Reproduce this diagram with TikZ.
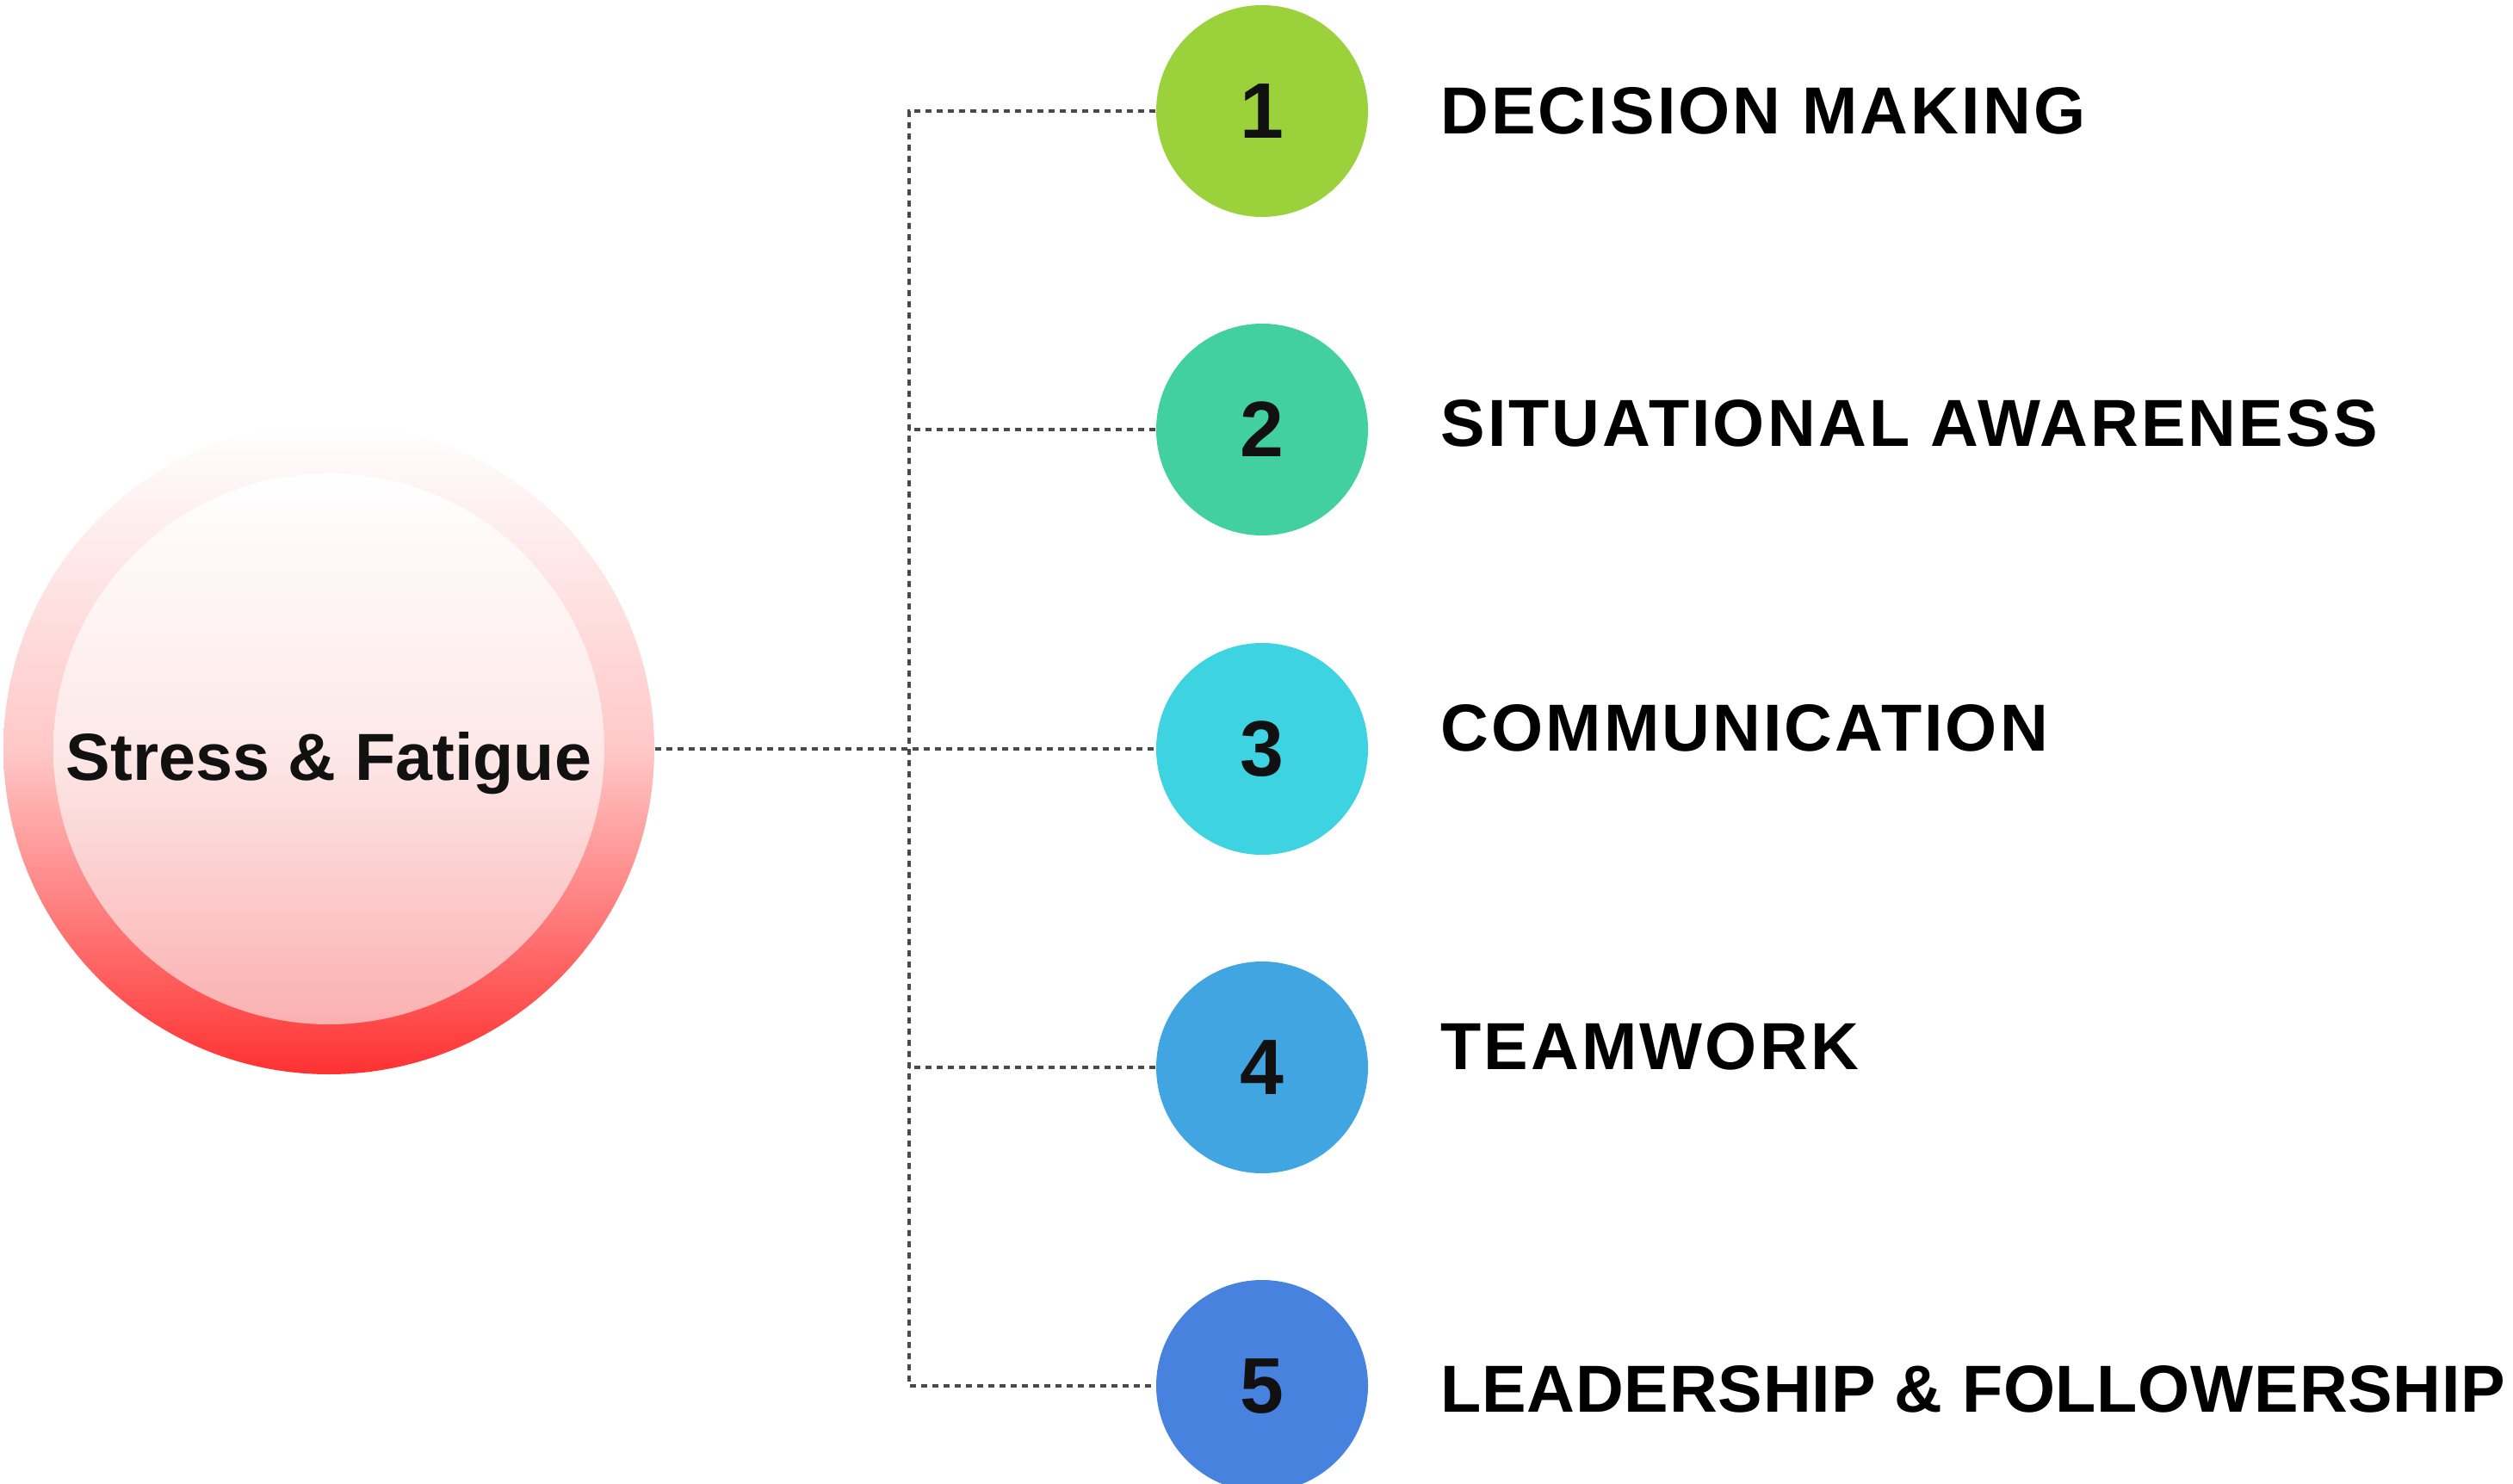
\documentclass[tikz,border=0pt]{standalone}
\usepackage{fontspec}
\setmainfont{Liberation Sans}
\usepackage{tikz}
\usetikzlibrary{positioning}
\usepackage{xcolor}
\definecolor{StressRed}{HTML}{FF3131}
\definecolor{StressPink}{HTML}{FFC8C8}
\definecolor{StressCore}{HTML}{FBB0B0}
\definecolor{StressCoreMid}{HTML}{FDE8E8}
\definecolor{StepGreen}{HTML}{9BD13A}
\definecolor{StepTeal}{HTML}{43D0A0}
\definecolor{StepCyan}{HTML}{3ED3E0}
\definecolor{StepSky}{HTML}{40A5E0}
\definecolor{StepBlue}{HTML}{4682DE}
\definecolor{LinkGray}{HTML}{4A4A4A}
\definecolor{TextDark}{HTML}{111111}
\tikzset{
  hubring/.style={circle,minimum size=7.56cm,inner sep=0pt,top color=white,bottom color=StressRed,middle color=StressPink},
  hubcore/.style={circle,minimum size=6.4cm,inner sep=0pt,top color=white,bottom color=StressCore,middle color=StressCoreMid},
  hubtext/.style={inner sep=0pt,text=TextDark,font=\fontsize{22}{26}\selectfont\bfseries},
  stepnode/.style={circle,minimum size=2.46cm,inner sep=0pt,text=TextDark,font=\fontsize{26}{30}\selectfont\bfseries},
  steplabel/.style={anchor=west,inner sep=0pt,font=\fontsize{22}{26}\selectfont\bfseries\addfontfeature{LetterSpace=4}},
  widelabel/.style={steplabel,font=\fontsize{22}{26}\selectfont\bfseries\addfontfeature{LetterSpace=1}},
  link/.style={draw=LinkGray,line width=0.9pt,dash pattern=on 2pt off 1.7pt}
}

\begin{document}
\begin{tikzpicture}[node distance=8.3mm and 8.3mm]
\useasboundingbox (0,0) rectangle (29.19,-17.24);
\clip (0,0) rectangle (29.19,-17.24);
% central circle
\node[hubring] (hub) at (3.82,-8.70) {};
\node[hubcore] (core) at (hub) {};
\node[hubtext] (hublabel) at ([yshift=-1.7mm]hub.center) {Stress \& Fatigue};
% numbered circles
\node[stepnode,fill=StepGreen] (c1) at (14.66,-1.29) {1};
\node[stepnode,fill=StepTeal] (c2) at (14.66,-4.99) {2};
\node[stepnode,fill=StepCyan] (c3) at (14.66,-8.70) {3};
\node[stepnode,fill=StepSky] (c4) at (14.66,-12.40) {4};
\node[stepnode,fill=StepBlue] (c5) at (14.66,-16.10) {5};
% labels
\node[steplabel,right=of c1] (l1) {DECISION MAKING};
\node[steplabel,right=of c2,yshift=0.7mm] (l2) {SITUATIONAL AWARENESS};
\node[steplabel,right=of c3,yshift=2.4mm] (l3) {COMMUNICATION};
\node[steplabel,right=of c4,yshift=2.4mm] (l4) {TEAMWORK};
\node[widelabel,right=of c5,yshift=-0.4mm] (l5) {LEADERSHIP \& FOLLOWERSHIP};
% connectors
\coordinate (trunk) at (10.56,0);
\draw[link] (c1.west) -- (c1.west -| trunk) -- (c5.west -| trunk) -- (c5.west);
\draw[link] (c2.west) -- (c2.west -| trunk);
\draw[link] (c4.west) -- (c4.west -| trunk);
\draw[link] (hub.east) -- (c3.west);
\end{tikzpicture}
\end{document}
